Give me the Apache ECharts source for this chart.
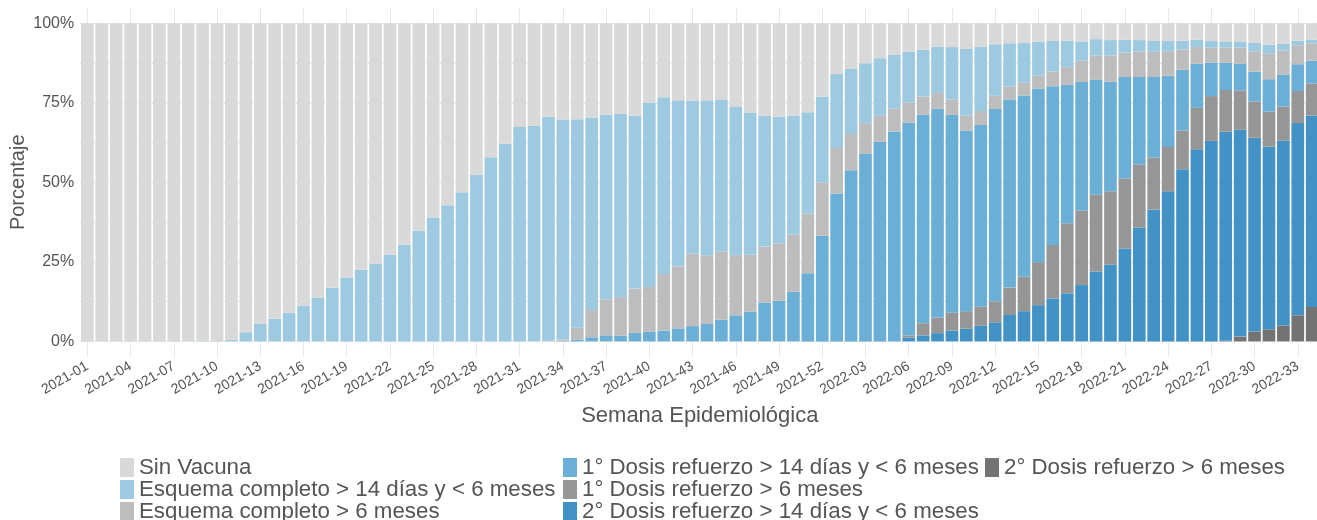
<!DOCTYPE html>
<html>
<head>
<meta charset="utf-8">
<script src="https://cdn.jsdelivr.net/npm/echarts@6/dist/echarts.min.js"></script>
<style>
  html, body { margin: 0; padding: 0; background: #fff; }
  #chart { width: 1317px; height: 520px; }
</style>
</head>
<body>
<div id="chart"></div>
<script>
// weeks 2021-01 .. 2022-34
const years = [2021, 2022];
const weeksPerYear = [52, 34];
const weeks = [];
years.forEach((y, k) => {
  for (let w = 1; w <= weeksPerYear[k]; w++) {
    weeks.push(y + '-' + (w < 10 ? '0' + w : w));
  }
});

// percentages per week, bottom of the stack first
const dosis2Mas6 = [
  0,0,0,0,0,0,0,0,0,0,
  0,0,0,0,0,0,0,0,0,0,
  0,0,0,0,0,0,0,0,0,0,
  0,0,0,0,0,0,0,0,0,0,
  0,0,0,0,0,0,0,0,0,0,
  0,0,0,0,0,0,0,0,0,0,
  0,0,0,0,0,0,0,0,0,0,
  0,0,0,0,0,0,0,0,0,0.2,
  1.5,3.1,3.8,5.0,8.2,10.8
];
const dosis2Menos6 = [
  0,0,0,0,0,0,0,0,0,0,
  0,0,0,0,0,0,0,0,0,0,
  0,0,0,0,0,0,0,0,0,0,
  0,0,0,0,0,0,0,0,0,0,
  0,0,0,0,0,0,0,0,0,0,
  0,0,0,0,0,0,0.1,1.2,1.9,2.6,
  3.4,4.0,4.9,6.0,8.3,9.5,11.4,13.5,15.1,17.7,
  22.0,24.2,29.2,35.8,41.4,47.2,54.1,60.4,63.0,65.7,
  65.0,60.9,57.4,58.1,60.4,60.2
];
const dosis1Mas6 = [
  0,0,0,0,0,0,0,0,0,0,
  0,0,0,0,0,0,0,0,0,0,
  0,0,0,0,0,0,0,0,0,0,
  0,0,0,0,0,0,0,0,0,0,
  0,0,0,0,0,0,0,0,0,0,
  0,0,0,0,0,0,0,0.7,3.8,4.9,
  5.6,5.5,6.0,6.6,8.6,10.8,13.5,16.8,22.0,23.4,
  24.1,23.0,22.0,19.8,16.4,13.9,12.2,13.0,14.1,13.1,
  12.4,11.4,11.0,10.7,10.1,10.0
];
const dosis1Menos6 = [
  0,0,0,0,0,0,0,0,0,0,
  0,0,0,0,0,0,0,0,0,0,
  0,0,0,0,0,0,0,0,0,0,
  0,0,0,0.2,0.6,1.3,1.9,1.8,2.7,3.0,
  3.4,4.1,4.8,5.5,6.8,8.2,9.3,12.2,12.8,15.6,
  21.4,33.2,46.5,53.8,58.9,62.7,65.9,66.8,65.5,65.6,
  62.2,56.8,57.1,60.4,59.1,57.0,54.6,49.9,43.6,40.4,
  36.2,34.4,31.9,27.5,25.3,22.4,19.1,13.9,10.5,8.6,
  8.4,9.4,10.2,10.1,8.4,7.2
];
const esquemaMas6 = [
  0,0,0,0,0,0,0,0,0,0,
  0,0,0,0,0,0,0,0,0,0,
  0,0,0,0,0,0,0,0,0,0,
  0,0.1,0.2,0.4,3.7,8.6,11.3,12.1,13.9,14.1,
  17.8,19.5,22.8,21.6,21.5,18.9,17.9,17.6,18.0,17.9,
  18.8,16.7,14.3,11.4,9.7,8.2,7.1,6.3,5.7,5.0,
  4.8,4.6,4.4,4.2,4.1,4.0,4.0,4.6,5.5,6.7,
  7.5,8.3,7.7,8.0,7.9,7.7,6.3,5.2,4.8,4.8,
  5.0,6.4,8.0,7.5,6.0,5.5
];
const esquemaMenos6 = [
  0,0,0,0,0,0,0,0,0.1,0.1,
  0.5,2.9,5.5,7.1,8.9,11.2,13.8,16.9,20.1,22.5,
  24.5,27.3,30.4,34.8,38.9,42.8,46.9,52.4,57.9,62.1,
  67.4,67.7,70.4,69.1,65.5,60.4,58.0,57.6,54.3,58.0,
  55.5,52.2,48.0,48.7,47.6,46.6,44.6,41.1,39.8,37.4,
  31.8,27.0,23.2,20.4,18.8,18.1,16.9,16.0,14.8,14.5,
  16.5,21.0,20.2,16.2,13.6,12.6,10.7,9.6,8.3,6.1,
  5.2,4.8,4.0,3.6,3.4,3.2,2.8,2.3,2.0,1.7,
  1.8,2.6,2.8,2.2,1.4,1.1
];
const sinVacuna = [
  100,100,100,100,100,100,100,100,99.9,99.9,
  99.5,97.1,94.5,92.9,91.1,88.8,86.2,83.1,79.9,77.5,
  75.5,72.7,69.6,65.2,61.1,57.2,53.1,47.6,42.1,37.9,
  32.6,32.2,29.4,30.3,30.2,29.7,28.8,28.5,29.1,24.9,
  23.3,24.2,24.4,24.2,24.1,26.3,28.2,29.1,29.4,29.1,
  28.0,23.1,16.0,14.4,12.6,11.0,10.0,9.0,8.3,7.4,
  7.5,8.1,7.4,6.6,6.3,6.1,5.8,5.6,5.5,5.7,
  5.0,5.3,5.2,5.3,5.6,5.6,5.5,5.2,5.6,5.9,
  5.9,6.2,6.8,6.4,5.5,5.2
];

const yLabels = [0, 25, 50, 75, 100];
const yGridLines = [0, 12.5, 25, 37.5, 50, 62.5, 75, 87.5, 100];

const names = [
  '2° Dosis refuerzo > 6 meses',
  '2° Dosis refuerzo > 14 días y < 6 meses',
  '1° Dosis refuerzo > 6 meses',
  '1° Dosis refuerzo > 14 días y < 6 meses',
  'Esquema completo > 6 meses',
  'Esquema completo > 14 días y < 6 meses',
  'Sin Vacuna'
];
const values = [dosis2Mas6, dosis2Menos6, dosis1Mas6, dosis1Menos6, esquemaMas6, esquemaMenos6, sinVacuna];
const colors = ['#737373', '#4292c6', '#969696', '#6baed6', '#bdbdbd', '#9ecae1', '#d9d9d9'];

const font = 'Liberation Sans, Arial, sans-serif';
const textColor = '#555555';

const barSeries = names.map((n, i) => ({
  name: n,
  type: 'bar',
  stack: 'total',
  data: values[i],
  barCategoryGap: '12%',
  itemStyle: { color: colors[i] },
  z: 2
}));

// dotted grid lines, drawn under the bars
const gridSeries = {
  name: 'grid',
  type: 'line',
  data: [],
  z: 0,
  silent: true,
  markLine: {
    silent: true,
    z: 0,
    symbol: 'none',
    label: { show: false },
    animation: false,
    lineStyle: { color: '#d6d6d6', type: 'dotted', width: 1 },
    data: weeks.filter((w, i) => i % 3 === 0).map(w => ({ xAxis: w }))
      .concat(yGridLines.map(v => ({ yAxis: v })))
  }
};

const legendBase = {
  orient: 'vertical',
  icon: 'rect',
  height: 120,
  itemWidth: 14,
  itemHeight: 19,
  itemGap: 0,
  padding: 0,
  selectedMode: false,
  textStyle: { fontSize: 22.3, color: textColor, fontFamily: font }
};

const chart = echarts.init(document.getElementById('chart'));
chart.setOption({
  animation: false,
  textStyle: { fontFamily: font },
  grid: {
    left: 80.15,
    right: -2.4,
    top: 7.3,
    bottom: 162.7,
    outerBoundsMode: 'none'
  },
  legend: [
    Object.assign({ left: 120, top: 456.5, data: [names[6], names[5], names[4]] }, legendBase),
    Object.assign({ left: 563, top: 456.5, data: [names[3], names[2], names[1]] }, legendBase),
    Object.assign({ left: 985, top: 456.5, data: [names[0]] }, legendBase)
  ],
  xAxis: {
    type: 'category',
    data: weeks,
    name: 'Semana Epidemiológica',
    nameLocation: 'middle',
    nameGap: 48,
    nameTextStyle: { fontSize: 22, color: textColor, fontFamily: font },
    axisLine: { show: false },
    axisTick: { show: false },
    splitLine: { show: false },
    axisLabel: {
      interval: 2,
      rotate: 30,
      margin: 8,
      fontSize: 14,
      color: textColor,
      fontFamily: font
    }
  },
  yAxis: {
    type: 'value',
    min: -5,
    max: 105,
    interval: 5,
    name: 'Porcentaje',
    nameLocation: 'middle',
    nameGap: 52,
    nameMoveOverlap: false,
    nameTextStyle: { fontSize: 20, color: textColor, fontFamily: font },
    axisLine: { show: false },
    axisTick: { show: false },
    splitLine: { show: false },
    axisLabel: {
      margin: 6,
      fontSize: 16,
      color: textColor,
      fontFamily: font,
      formatter: v => (yLabels.indexOf(v) >= 0 ? v + '%' : '')
    }
  },
  series: barSeries.concat([gridSeries])
});
</script>
</body>
</html>
